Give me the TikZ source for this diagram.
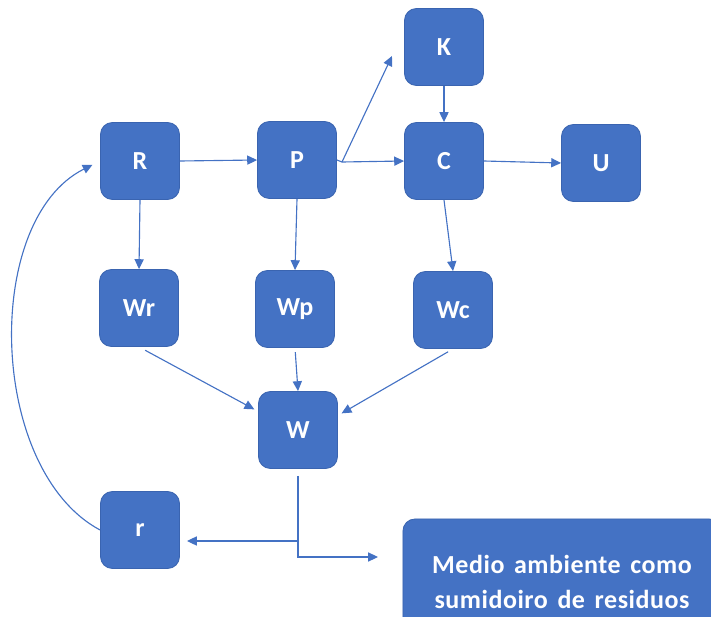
\documentclass[tikz,border=0pt]{standalone}
\usepackage{fontspec}
\setmainfont{Carlito}
\newfontfamily\sinkfont{Carlito}[LetterSpace=2, WordSpace=1.5]
\usepackage{tikz}
\usetikzlibrary{arrows.meta}
\usetikzlibrary{positioning}
\usetikzlibrary{calc}
\definecolor{boxblue}{HTML}{4472C4}
\definecolor{boxedge}{HTML}{3A64B0}
\definecolor{lineblue}{HTML}{4472C4}
\tikzset{
    box/.style={draw=boxedge, fill=boxblue, line width=0.6pt, rounded corners=0.3cm,
        minimum width=1.975cm, minimum height=1.925cm, inner sep=0pt,
        text=white, font=\bfseries\fontsize{18.5}{25}\selectfont},
    sink/.style={box, minimum width=7.95cm, minimum height=3.15cm, align=center,
        font=\sinkfont\bfseries\fontsize{18.5}{25}\selectfont},
    link/.style={draw=lineblue, line width=0.8pt},
    flow/.style={link, -{Triangle[length=7pt,width=6.5pt]}},
}
\begin{document}
\begin{tikzpicture}[x=0.025cm, y=-0.025cm]
	\useasboundingbox (0,0) rectangle (711,617);
	% first row
	\node[box] (R) at (140,161) {R};
	\node[box] (P) at (297,160) {P};
	\node[box] (K) at (444,47) {K};
	\node[box] (C) at (444,161) {C};
	\node[box] (U) at (601,163) {U};
	% wastes
	\node[box] (Wr) at (139,308) {Wr};
	\node[box] (Wp) at (295,309) {Wp};
	\node[box] (Wc) at (453,310) {Wc};
	\node[box] (W) at (298,430) {W};
	\node[box] (r) at (140,530) {r};
	\node[sink] (M) at (562,582) {Medio ambiente como\\sumidoiro de residuos};
	% branch points
	\coordinate (Psplit) at (342,162);
	\coordinate (Ktip) at (392,56);
	\coordinate (toR) at (299,541);
	\coordinate (Mtip) at (378,557);

	\draw[flow] (R.east) -- (P.west);
	\draw[link] (P.east) -- (Psplit);
	\draw[flow] (Psplit) -- (C.west);
	\draw[flow] (Psplit) -- (Ktip);
	\draw[flow] (K.south) -- (C.north);
	\draw[flow] (C.east) -- (U.west);

	\draw[flow] (R.south) -- (Wr.north);
	\draw[flow] (P.south) -- (Wp.north);
	\draw[flow] (C.south) -- (Wc.north);

	\draw[flow, shorten <=5pt, shorten >=3pt] (Wr.south) -- (W.155);
	\draw[flow, shorten <=3pt] (Wp.south) -- (W.north);
	\draw[flow, shorten <=4pt, shorten >=3pt] (Wc.south) -- (W.20);

	\draw[flow, shorten <=5pt] (W.south) |- (Mtip);
	\draw[flow, shorten >=5pt] (toR) -- (toR -| r.east);
	\draw[flow, shorten >=6pt] (r.west) .. controls (-12,470) and (-18,220) .. (R.west);
\end{tikzpicture}
\end{document}
